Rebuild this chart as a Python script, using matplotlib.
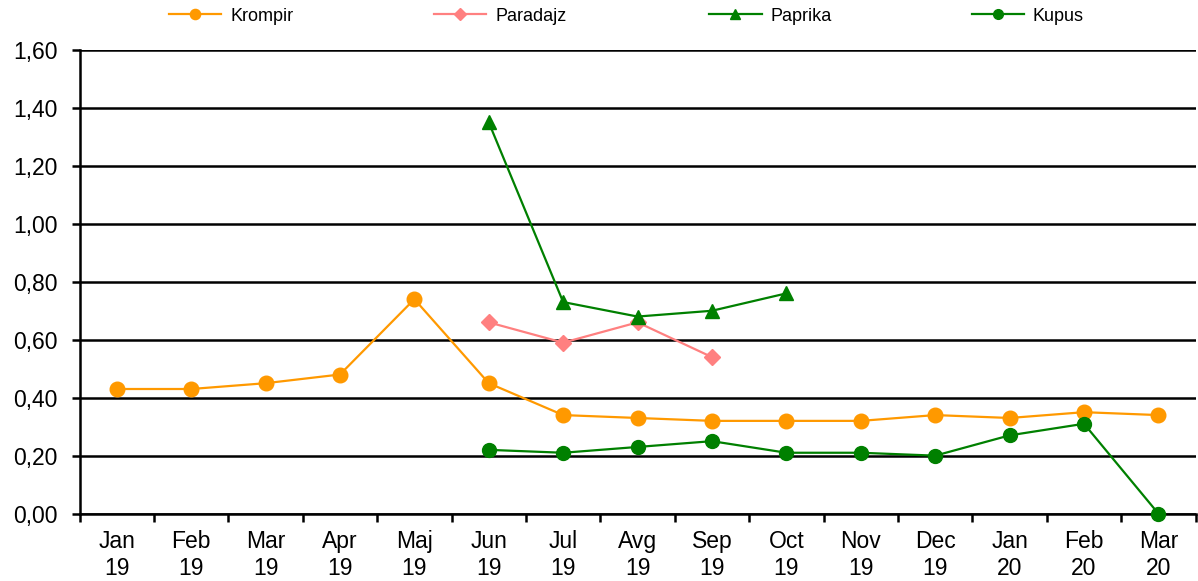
import matplotlib
matplotlib.use("Agg")
import matplotlib.pyplot as plt
import numpy as np

months = ["Jan\n19", "Feb\n19", "Mar\n19", "Apr\n19", "Maj\n19", "Jun\n19", "Jul\n19",
          "Avg\n19", "Sep\n19", "Oct\n19", "Nov\n19", "Dec\n19", "Jan\n20", "Feb\n20", "Mar\n20"]
nan = np.nan
krompir = [0.43, 0.43, 0.45, 0.48, 0.74, 0.45, 0.34, 0.33, 0.32, 0.32, 0.32, 0.34, 0.33, 0.35, 0.34]
paradajz = [nan, nan, nan, nan, nan, 0.66, 0.59, 0.66, 0.54, nan, nan, nan, nan, nan, nan]
paprika = [nan, nan, nan, nan, nan, 1.35, 0.73, 0.68, 0.70, 0.76, nan, nan, nan, nan, nan]
kupus = [nan, nan, nan, nan, nan, 0.22, 0.21, 0.23, 0.25, 0.21, 0.21, 0.20, 0.27, 0.31, 0.00]
yticks = [0.0, 0.2, 0.4, 0.6, 0.8, 1.0, 1.2, 1.4, 1.6]

plt.rcParams['font.family'] = ['Liberation Sans', 'DejaVu Sans']

fig = plt.figure(figsize=(11.98, 5.81), dpi=100)
ax = fig.add_axes([0.0664, 0.116, 0.9316, 0.798])

x = np.arange(len(months))
c_k = '#FF9900'
c_p = '#FF8080'
c_g = '#008000'
h1, = ax.plot(x, krompir, color=c_k, lw=1.6, marker='o', ms=10.5, label='Krompir', clip_on=False, zorder=5)
h2, = ax.plot(x, paradajz, color=c_p, lw=1.6, marker='D', ms=8.5, label='Paradajz', clip_on=False, zorder=5)
h3, = ax.plot(x, paprika, color=c_g, lw=1.6, marker='^', ms=10.5, label='Paprika', clip_on=False, zorder=5)
h4, = ax.plot(x, kupus, color=c_g, lw=1.6, marker='o', ms=10, label='Kupus', clip_on=False, zorder=5)

ax.set_xlim(-0.5, len(months) - 0.5)
ax.set_ylim(0, 1.6)
ax.set_yticks(yticks)
ax.set_yticklabels([f"{v:.2f}".replace('.', ',') for v in yticks], fontsize=16.5)
ax.yaxis.grid(True, color='black', lw=1.8)
ax.set_axisbelow(True)

ax.set_xticks(np.arange(len(months) + 1) - 0.5)
ax.set_xticklabels([])
ax.set_xticks(x, minor=True)
ax.set_xticklabels(months, minor=True, fontsize=16.5, linespacing=1.2)
ax.tick_params(axis='x', which='minor', length=0, pad=12)
ax.tick_params(axis='x', which='major', length=6, width=1.8, direction='out')
ax.tick_params(axis='y', length=6, width=1.8, direction='out', pad=10)

for s in ['top', 'right']:
    ax.spines[s].set_visible(False)
for s in ['left', 'bottom']:
    ax.spines[s].set_linewidth(1.8)
    ax.spines[s].set_color('black')

positions = [0.141, 0.362, 0.592, 0.811]
for h, px in zip([h1, h2, h3, h4], positions):
    fig.legend(handles=[h], loc='center left', bbox_to_anchor=(px, 0.972), frameon=False,
               fontsize=13, handlelength=2.9, handletextpad=0.5, borderaxespad=0, borderpad=0,
               markerscale=0.7)

fig.savefig('out.png', dpi=100)
